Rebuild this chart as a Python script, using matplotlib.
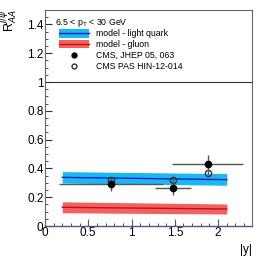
import matplotlib
matplotlib.use("Agg")
import matplotlib.pyplot as plt
from matplotlib.lines import Line2D
from matplotlib.patches import Patch
from matplotlib.ticker import MultipleLocator, FuncFormatter

plt.rcParams['font.family'] = ['Liberation Sans', 'DejaVu Sans']

# model bands (|y| range, centre, low, high)
model_y = [0.2, 2.1]
quark_mid = [0.338, 0.322]
quark_lo = [0.298, 0.283]
quark_hi = [0.378, 0.364]
gluon_mid = [0.130, 0.118]
gluon_lo = [0.092, 0.083]
gluon_hi = [0.168, 0.153]

# CMS JHEP 05, 063
jhep_y = [0.76, 1.48, 1.88]
jhep_r = [0.290, 0.266, 0.430]
jhep_xerr = [0.60, 0.21, 0.41]
jhep_rerr = [0.045, 0.050, 0.065]

# CMS PAS HIN-12-014
pas_y = [0.76, 1.48, 1.88]
pas_r = [0.320, 0.320, 0.370]
pas_rerr = [0.015, 0.015, 0.015]

fig = plt.figure(figsize=(2.66, 2.58), dpi=100)
ax = fig.add_axes([0.169, 0.124, 0.778, 0.837])

ax.fill_between(model_y, quark_lo, quark_hi, color='#1ab8f0', lw=0)
ax.plot(model_y, quark_mid, color='#1020c0', lw=1.0)
ax.fill_between(model_y, gluon_lo, gluon_hi, color='#f46060', lw=0)
ax.plot(model_y, gluon_mid, color='#c01010', lw=1.0)

ax.errorbar(jhep_y, jhep_r, xerr=jhep_xerr, yerr=jhep_rerr, fmt='o', color='black',
            ms=4.5, ecolor='#555555', elinewidth=1.0, capsize=0, zorder=5)
ax.errorbar(pas_y, pas_r, yerr=pas_rerr, fmt='o', mfc='none', mec='#333333',
            ms=4.5, ecolor='#555555', elinewidth=0.8, capsize=0, zorder=4)

ax.axhline(1.0, color='#333333', lw=0.8)

ax.set_xlim(0, 2.39)
ax.set_ylim(0, 1.5)
ax.xaxis.set_major_locator(MultipleLocator(0.5))
ax.xaxis.set_minor_locator(MultipleLocator(0.1))
ax.yaxis.set_major_locator(MultipleLocator(0.2))
ax.yaxis.set_minor_locator(MultipleLocator(0.05))
fmt = FuncFormatter(lambda v, p: '%g' % round(v, 2))
ax.xaxis.set_major_formatter(fmt)
ax.yaxis.set_major_formatter(fmt)
ax.tick_params(which='both', direction='in', top=False, right=False,
               labelsize=8.5, colors='#333333', pad=1)
ax.tick_params(which='major', length=5)
ax.tick_params(which='minor', length=2.5)
ax.tick_params(axis='x', colors='#555580', labelcolor='black')
ax.tick_params(axis='y', labelcolor='black')
for s in ['top', 'right', 'left']:
    ax.spines[s].set_color('#666666')
    ax.spines[s].set_linewidth(0.8)
ax.spines['bottom'].set_color('#555580')
ax.spines['bottom'].set_linewidth(1.0)

ax.set_xlabel('|y|', fontsize=8.5, loc='right', labelpad=3)
fig.text(0.035, 0.965, r'R$_{AA}^{J/\psi}$', rotation=90, ha='center', va='top', fontsize=9)

ax.text(0.047, 0.967, r'6.5 < p$_{\rm T}$ < 30 GeV', transform=ax.transAxes,
        fontsize=6.3, ha='left', va='top')

handles = [
    (Patch(color='#1ab8f0', lw=0), Line2D([], [], color='#1020c0', lw=1.0)),
    (Patch(color='#f46060', lw=0), Line2D([], [], color='#c01010', lw=1.0)),
    Line2D([], [], ls='none', marker='o', color='black', ms=3.5),
    Line2D([], [], ls='none', marker='o', mfc='none', mec='#333333', ms=3.5),
]
labels = ['model - light quark', 'model - gluon', 'CMS, JHEP 05, 063', 'CMS PAS HIN-12-014']
leg = ax.legend(handles, labels, loc='upper left', bbox_to_anchor=(0.04, 0.94),
                frameon=False, fontsize=6.3, handlelength=3.4, handleheight=1.1,
                labelspacing=0.2, handletextpad=0.75, borderpad=0.2)

fig.savefig('out.png', dpi=100)
